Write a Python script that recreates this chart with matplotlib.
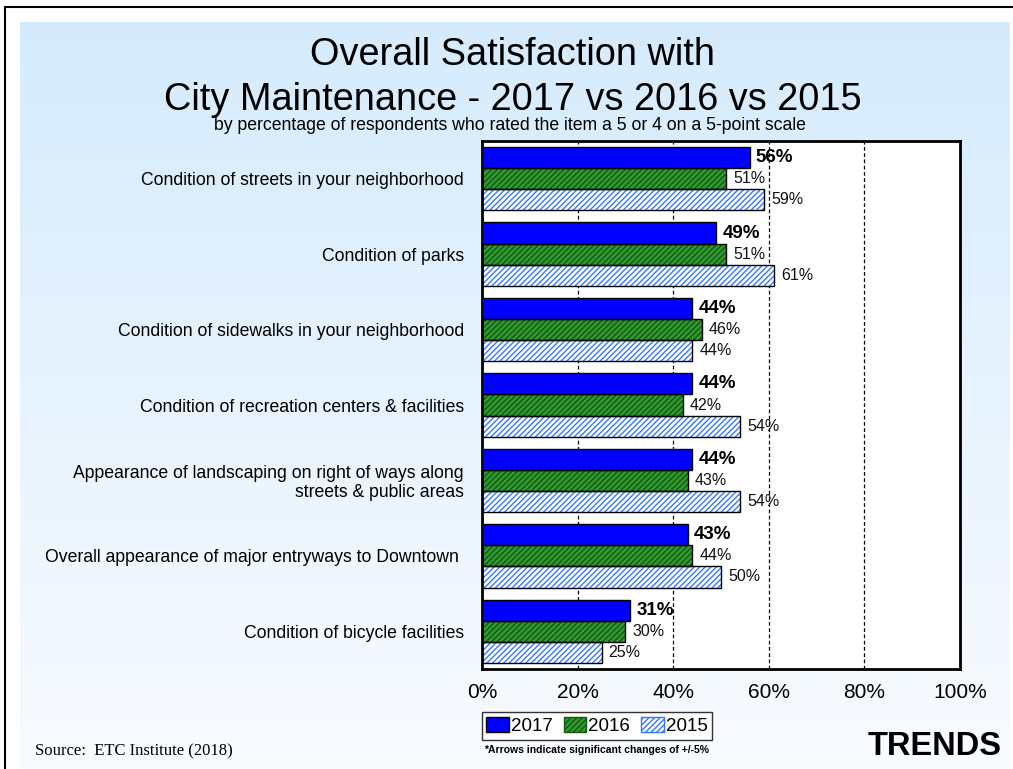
import numpy as np
import matplotlib.pyplot as plt
from matplotlib.patches import Patch

plt.rcParams['font.family'] = ['Liberation Sans', 'DejaVu Sans']
plt.rcParams['hatch.linewidth'] = 1.0

# data
categories = [
    "Condition of streets in your neighborhood",
    "Condition of parks",
    "Condition of sidewalks in your neighborhood",
    "Condition of recreation centers & facilities",
    "Appearance of landscaping on right of ways along\nstreets & public areas",
    "Overall appearance of major entryways to Downtown ",
    "Condition of bicycle facilities",
]
years = ["2017", "2016", "2015"]
vals_2017 = [56, 49, 44, 44, 44, 43, 31]
vals_2016 = [51, 51, 46, 42, 43, 44, 30]
vals_2015 = [59, 61, 44, 54, 54, 50, 25]
xticks = [0, 20, 40, 60, 80, 100]

fig = plt.figure(figsize=(10.13, 7.69), dpi=100)

# page background: frame + light blue gradient
bg = fig.add_axes([0, 0, 1, 1], zorder=-10)
grad = np.linspace(0, 1, 256).reshape(-1, 1)
top = np.array([0.835, 0.922, 0.988])
bot = np.array([0.975, 0.985, 1.0])
img = top + (bot - top) * grad[..., None]
bg.imshow(img, extent=[20, 1010, 769, 22], aspect='auto')
bg.plot([5, 5, 1013], [769, 6.5, 6.5], color='black', lw=1.5)
bg.set_xlim(0, 1013)
bg.set_ylim(769, 0)
bg.axis('off')

ax = fig.add_axes([482 / 1013, 1 - 669 / 769, 478 / 1013, 528 / 769])
ax.set_facecolor('white')

n = len(categories)
y = np.arange(n)
h = 0.28
styles = [
    dict(face='#0000ff', hatch=None, hcol=None),
    dict(face='#339933', hatch='//////', hcol='#0f5a0f'),
    dict(face='#ffffff', hatch='//////', hcol='#3377ff'),
]
series = [vals_2017, vals_2016, vals_2015]

for k, (vals, st) in enumerate(zip(series, styles)):
    pos = y + (k - 1) * h
    if st['hatch']:
        ax.barh(pos, vals, height=h, color=st['face'], hatch=st['hatch'],
                edgecolor=st['hcol'], linewidth=0, zorder=2)
        ax.barh(pos, vals, height=h, fill=False, edgecolor='black',
                linewidth=1, zorder=3)
    else:
        ax.barh(pos, vals, height=h, color=st['face'], edgecolor='black',
                linewidth=1, zorder=3)
    for p, v in zip(pos, vals):
        if k == 0:
            ax.text(v + 1.3, p, f"{v}%", va='center', ha='left',
                    fontsize=13.5, fontweight='bold', zorder=4)
        else:
            ax.text(v + 1.5, p, f"{v}%", va='center', ha='left',
                    fontsize=11.5, color='#111111', zorder=4)

ax.set_xlim(0, 100)
ax.set_ylim(n - 0.5, -0.5)
ax.set_xticks(xticks)
ax.set_xticklabels([f"{t}%" for t in xticks], fontsize=15)
ax.tick_params(axis='x', length=0, pad=10)
ax.set_yticks(y)
ax.set_yticklabels(categories, fontsize=12.7, ha='right', linespacing=1.15)
ax.tick_params(axis='y', length=0, pad=13)
for t in [20, 40, 60, 80]:
    ax.axvline(t, color='black', lw=0.9, ls=(0, (3, 2)), zorder=1)
for s in ax.spines.values():
    s.set_linewidth(2)
    s.set_color('black')

# titles
fig.text(513 / 1013, 1 - 65 / 769, "Overall Satisfaction with", ha='center',
         va='baseline', fontsize=27.3)
fig.text(513 / 1013, 1 - 110 / 769, "City Maintenance - 2017 vs 2016 vs 2015",
         ha='center', va='baseline', fontsize=27.3)
fig.text(510 / 1013, 1 - 130 / 769,
         "by percentage of respondents who rated the item a 5 or 4 on a 5-point scale",
         ha='center', va='baseline', fontsize=12.7)

# legend
handles = [
    Patch(facecolor='#0000ff', edgecolor='black', label='2017'),
    Patch(facecolor='#339933', edgecolor='#0f5a0f', hatch='//////', label='2016'),
    Patch(facecolor='#ffffff', edgecolor='#3377ff', hatch='//////', label='2015'),
]
leg = fig.legend(handles=handles, loc='center', bbox_to_anchor=(597 / 1013, 1 - 726 / 769),
                 ncol=3, fontsize=13.5, frameon=True, fancybox=False,
                 handlelength=1.2, handleheight=0.8, handletextpad=0.1,
                 columnspacing=0.6, borderpad=0.25, edgecolor='black')
leg.get_frame().set_linewidth(1)

fig.text(597 / 1013, 1 - 750 / 769, "*Arrows indicate significant changes of +/-5%",
         ha='center', va='center', fontsize=7.5, fontweight='bold')
fig.text(35 / 1013, 1 - 755 / 769, "Source:  ETC Institute (2018)",
         ha='left', va='baseline', fontsize=12, family='Liberation Serif')
fig.text(1002 / 1013, 1 - 755 / 769, "TRENDS", ha='right', va='baseline',
         fontsize=23.5, fontweight='bold')

fig.savefig('out.png', dpi=100)
